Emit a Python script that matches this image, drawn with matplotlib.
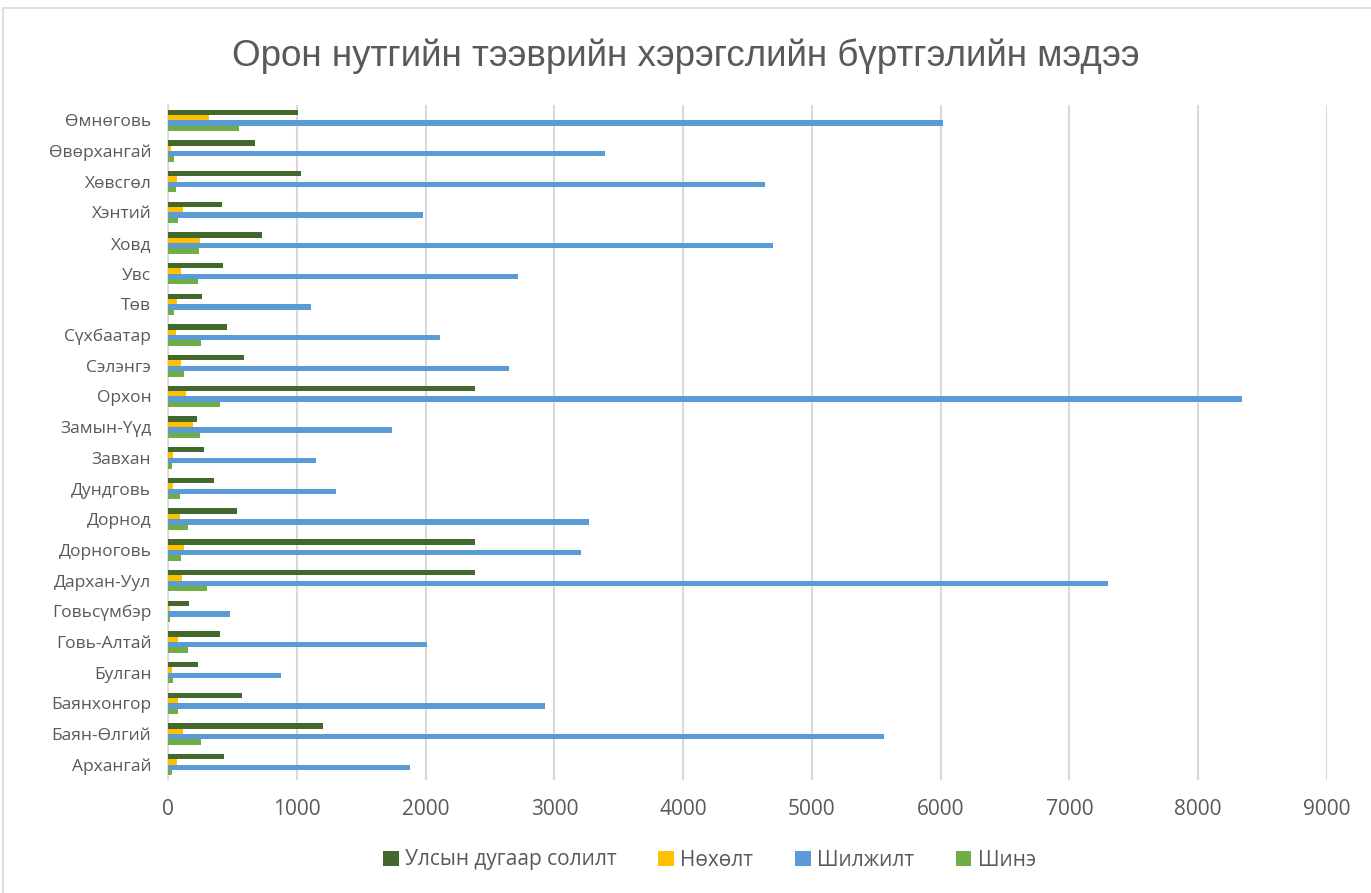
import matplotlib.pyplot as plt
import numpy as np
from matplotlib.patches import Rectangle

# аймгууд, доороос дээш
aimag = ["Архангай", "Баян-Өлгий", "Баянхонгор", "Булган", "Говь-Алтай", "Говьсүмбэр",
         "Дархан-Уул", "Дорноговь", "Дорнод", "Дундговь", "Завхан", "Замын-Үүд",
         "Орхон", "Сэлэнгэ", "Сүхбаатар", "Төв", "Увс", "Ховд", "Хэнтий", "Хөвсгөл",
         "Өвөрхангай", "Өмнөговь"]

dugaar_solilt = [432, 1206, 575, 234, 401, 164, 2385, 2385, 534, 359, 281, 229,
                 2385, 591, 461, 263, 430, 727, 417, 1036, 674, 1008]
nokholt = [68, 117, 81, 34, 75, 16, 112, 122, 91, 42, 42, 198,
           141, 102, 62, 73, 102, 247, 117, 68, 23, 320]
shiljilt = [1877, 5559, 2930, 875, 2008, 484, 7298, 3207, 3269, 1305, 1151, 1737,
            8339, 2646, 2112, 1107, 2721, 4697, 1982, 4635, 3393, 6017]
shine = [34, 253, 78, 39, 159, 16, 305, 102, 159, 91, 31, 250,
         406, 128, 253, 47, 232, 242, 75, 60, 47, 550]

series = [("Улсын дугаар солилт", dugaar_solilt, "#43682B"),
          ("Нөхөлт", nokholt, "#FFC000"),
          ("Шилжилт", shiljilt, "#5B9BD5"),
          ("Шинэ", shine, "#70AD47")]

fig = plt.figure(figsize=(13.71, 8.93), dpi=100)
fig.patches.append(Rectangle((3 / 1371, -0.1), 1.2, 1.1 - 8 / 893, transform=fig.transFigure,
                             fill=False, edgecolor="#D9D9D9", linewidth=1.2))

ax = fig.add_axes([168 / 1371, 113 / 893, (1327 - 168) / 1371, (788 - 113) / 893])

y = np.arange(len(aimag))
h = 0.175
offsets = [1.5 * h, 0.5 * h, -0.5 * h, -1.5 * h]
for (name, vals, col), off in zip(series, offsets):
    ax.barh(y + off, vals, height=h, color=col, label=name, zorder=3)

ax.set_xlim(0, 9000)
ax.set_ylim(-0.5, len(aimag) - 0.5)
ax.set_xticks(range(0, 9001, 1000))
ax.set_yticks(y)
ax.set_yticklabels(aimag)
ax.grid(axis="x", color="#D9D9D9", linewidth=1.5, zorder=0)
for s in ["top", "right", "bottom"]:
    ax.spines[s].set_visible(False)
ax.spines["left"].set_color("#D9D9D9")
ax.spines["left"].set_linewidth(1.2)
ax.tick_params(length=0, colors="#595959")
for lab in ax.get_xticklabels():
    lab.set_fontfamily("Open Sans")
    lab.set_fontsize(15)
for lab in ax.get_yticklabels():
    lab.set_fontfamily("Open Sans")
    lab.set_fontsize(12.5)
ax.tick_params(axis="x", pad=14)
ax.tick_params(axis="y", pad=12)

fig.text(0.5, 1 - 56 / 893, "Орон нутгийн тээврийн хэрэгслийн бүртгэлийн мэдээ",
         ha="center", va="center", fontsize=26.5, color="#595959", family="Liberation Sans")

fig.legend(loc="center", bbox_to_anchor=(0.5175, 1 - 860 / 893), ncol=4, frameon=False,
           prop={"family": "Open Sans", "size": 15}, labelcolor="#595959",
           handlelength=0.75, handleheight=0.75, columnspacing=2.0, handletextpad=0.3)

fig.savefig("out.png", dpi=100)
